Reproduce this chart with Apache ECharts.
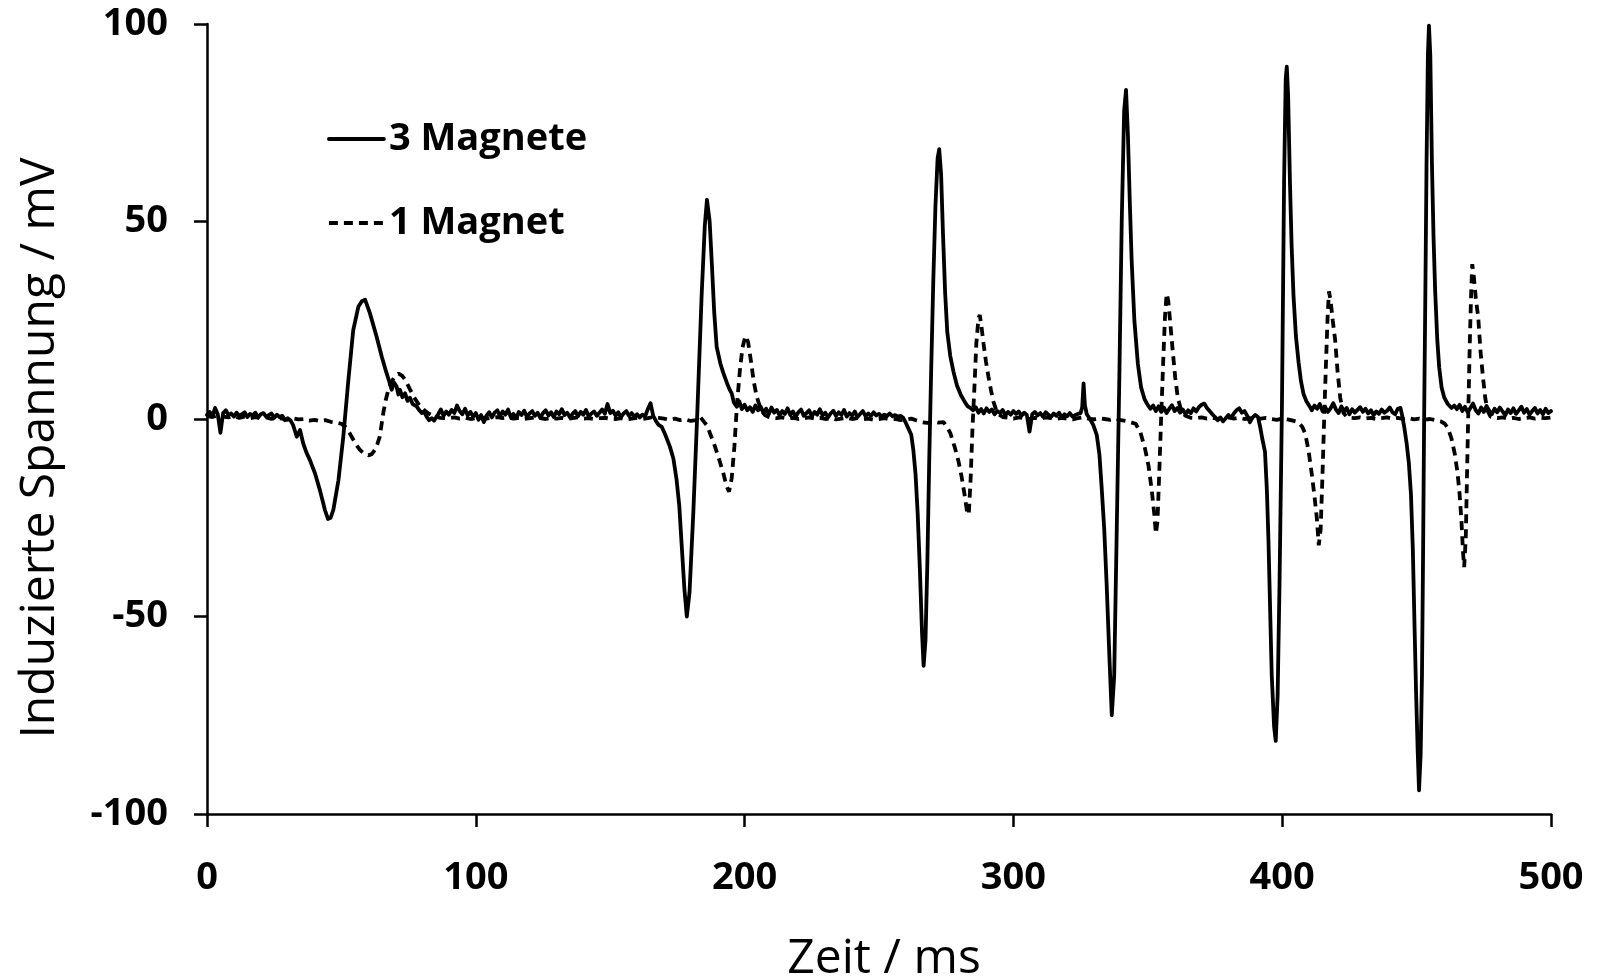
<!DOCTYPE html>
<html><head><meta charset="utf-8">
<script src="https://cdn.jsdelivr.net/npm/echarts/dist/echarts.min.js"></script>
<style>html,body{margin:0;padding:0;background:#fff}#c{width:1604px;height:979px}</style>
</head><body><div id="c"></div>
<script>
// ---------- axis ticks ----------
const xTicks = [0, 100, 200, 300, 400, 500];
const yTicks = [-100, -50, 0, 50, 100];
const seriesNames = ['3 Magnete', '1 Magnet'];

// ---------- 3 Magnete (solid) ----------
// baseline runs sampled every 1 ms: first value at the given start time
const m3Base0Start = 0;
const m3Base0 = [1.0,1.8,0.6,2.8,1.2,-3.5,1.5,2.2,1.0,1.4,0.6,1.6,0.8,1.2,1.7,0.5,1.3,0.9,1.6,0.4,1.2,1.5,0.6,1.0,1.4,0.3,1.1,0.5,0.8,-0.3,0.2];
const m3Pulse1 = [[31,-0.3],[32,-1.5],[33.4,-4.5],[34.6,-2.8],[35.8,-6.2],[37,-8.5],[38.3,-10.4],[40.2,-13.8],[42,-18],[43.9,-23.1],[45,-25.3],[46,-25],[47,-23],[48.9,-15.5],[50.7,-4.5],[52.6,9.9],[54.4,22.5],[56.3,28.4],[57.6,29.8],[58.8,30.2],[60.6,26.8],[63.1,20.8],[65,15.8],[66.8,11.6],[67.8,9.5],[68.7,7.4],[69.6,9.2],[70.5,8.3],[71.2,6.2],[71.8,7.4],[72.7,5.5],[73.7,6.5],[74.6,4.6],[75.5,5.4],[76.5,3.8],[78,3.2],[79,2.2],[79.9,1.5],[80.8,1.8],[81.7,0.6],[82.6,-0.3],[83.6,0.2],[84.5,-0.4],[85.4,0.6]];
const m3Base1Start = 86;
const m3Base1 = [1.2,2.4,0.8,1.9,1.1,2.3,1.5,3.4,2.0,1.2,2.6,0.9,1.8,0.6,1.5,-0.2,1.0,-0.8,0.9,1.7,0.4,1.6,2.2,0.7,1.9,1.1,2.4,0.5,1.3,0.2,1.8,1.0,2.1,0.6,1.4,2.0,0.8,1.6,0.3,1.5,2.2,0.9,1.7,0.5,1.9,1.2,2.5,1.0,1.6,0.4,1.3,2.0,0.7,1.8,1.1,2.3,0.6,1.4,1.9,0.8,1.6,2.4,1.3,3.8,1.5,2.1,0.9,1.7,0.5,1.4,2.0,0.8,1.5,0.6,1.2,0.4,1.1,0.7,2.5,4.0,0.8];
const m3Pulse2 = [[167,-0.5],[168,-1.5],[169.2,-2],[170.5,-4],[172.2,-7],[173.5,-10],[174.7,-15.4],[175.7,-22],[176.6,-32],[177.6,-43],[178.5,-50],[179.5,-44],[180.9,-24],[182.4,1.5],[184,31],[185.2,49],[186,55.5],[187,50],[187.8,39.5],[188.7,27],[189.6,18.3],[191,14],[192.1,11.6],[193.5,9],[194.4,7.5],[195.2,6.5],[196,4.2],[197.1,3.1],[198,4.5],[199,2.5],[200,3.6],[201,2.2]];
const m3Base2Start = 202;
const m3Base2 = [3.0,1.8,3.4,2.2,3.1,1.5,2.6,1.2,2.9,1.6,2.3,0.9,2.0,1.3,2.7,1.0,1.9,0.6,1.7,2.4,0.8,1.5,2.2,0.7,1.8,1.1,2.5,0.9,1.6,0.4,1.4,2.1,0.8,1.7,1.0,2.3,0.6,1.5,0.9,1.9,0.5,1.3,2.0,0.7,1.4,0.8,1.7,0.9,1.3,0.6,1.1,0.8,1.4,0.7,1.0,0.6,0.8];
const m3Pulse3 = [[259,0.3],[260,-1],[261,-2.5],[262,-4],[262.8,-8],[263.6,-14],[264.4,-24],[265.2,-38],[266,-54],[266.6,-62.5],[267.3,-56],[268,-36],[268.7,-10],[269.4,12],[270.2,35],[271,54],[271.8,66],[272.4,68.3],[273.1,62],[273.8,47],[274.6,32],[275.4,22],[276.5,16],[277.7,12],[279,8.5],[280.5,6],[282,4.2],[283,3.2],[284,2.8]];
const m3Base3Start = 285;
const m3Base3 = [2.2,3.0,1.6,2.5,1.4,2.7,1.8,2.4,1.2,2.0,1.5,2.3,0.9,1.8,1.1,2.0,1.3,1.9,0.8,1.6,1.0,-3.2,1.2,1.8,0.9,1.5,0.6,1.7,1.1,0.5,1.4,0.8,1.6,0.4,1.2,0.7,1.5,0.6,1.0,1.3];
const m3Pulse4 = [[325,1.5],[325.6,3],[326.1,9],[326.6,3.5],[327.3,1.2],[328.5,0],[329.7,-1.5],[331,-4],[332,-9],[332.8,-17],[333.8,-28],[334.7,-42],[335.7,-60],[336.6,-75],[337.5,-65],[338.4,-30],[339.4,10],[340.3,50],[341.2,78],[341.9,83.3],[342.6,72],[343.3,55],[344,40],[345,25],[346.3,14],[347.5,8],[348.8,5],[350,3.5]];
const m3Base4Start = 351;
const m3Base4 = [2.6,3.4,2.0,3.2,1.8,2.9,1.5,2.6,3.5,2.0,2.8,1.6,2.4,1.2,2.2,1.5,2.7,1.9,3.0,3.6,3.9,2.8,2.0,1.2,0.5,-0.3,0.4,-0.6,0.2,1.0,0.3,1.4,2.2,2.7,1.6,2.0,0.8,-0.8,0.4,1.0];
const m3Pulse5 = [[391,0.5],[391.8,-2],[392.6,-5],[393.6,-8.3],[394.3,-18],[394.9,-31],[395.5,-48],[396.1,-64.8],[397,-78],[397.6,-81.5],[398.3,-70],[399,-42],[399.9,3],[400.7,60],[401.3,86],[401.7,89.2],[402.2,82],[402.9,59.5],[403.5,44],[404.2,31.3],[405.1,21],[406.1,14.3],[407,9.5],[407.9,6.4],[409,4.5],[410.4,3]];
const m3Base5Start = 411;
const m3Base5 = [2.2,3.4,2.6,3.8,2.0,3.0,1.8,2.7,4.0,2.4,1.5,3.2,1.9,2.8,1.2,2.5,1.6,2.3,3.0,1.8,2.6,1.4,2.2,1.0,1.9,1.3,2.4,1.6,2.1,2.9,1.7,1.2,2.6];
const m3Pulse6 = [[444,2.8],[444.6,1],[445.4,-2],[446.3,-6.2],[447.1,-11],[447.9,-19],[448.6,-33],[449.2,-51.5],[449.8,-69],[450.4,-84],[450.9,-94],[451.5,-85],[452,-64.8],[452.4,-35],[452.8,0],[453.3,35],[453.7,64.8],[454.2,92],[454.6,99.6],[455.1,92],[455.7,64.8],[456.3,46],[456.9,32.5],[457.7,20],[458.4,13.1],[459.3,8],[460.3,5.4],[461.6,3.8],[463,2.8],[464,3.4]];
const m3Base6Start = 465;
const m3Base6 = [2.5,3.6,2.0,3.1,1.7,2.8,3.9,2.2,1.4,2.9,1.8,3.3,2.1,1.2,2.6,1.7,2.9,1.9,1.0,2.4,1.5,2.7,1.3,2.2,3.1,1.6,2.5,1.1,2.0,2.8,1.4,2.3,1.2,2.6,1.5,2.0];

// ---------- 1 Magnet (dashed) ----------
// baseline runs sampled every 2 ms
const m1Base0Start = 0;
const m1Base0 = [0.8,0.5,0.9,0.6,0.4,0.7,0.3,0.6,0.2,0.5,0.1,0.4,0.0,0.3,0.1,-0.2,0.2,-0.1,0.0,-0.4,-0.2,-0.5,-0.3,-0.7,-0.9];
const m1Pulse1 = [[50,-1.2],[51.8,-2.2],[53,-3.5],[54.4,-5.2],[55.7,-6.7],[56.9,-7.8],[58.5,-8.8],[60,-9.2],[61.3,-8.9],[62.5,-7.8],[63.4,-6.3],[64.3,-4.4],[65.6,1.6],[66.5,4.8],[67.5,7.5],[68.8,9.6],[70,10.9],[71.3,11.5],[72.5,11],[73.7,10],[75.5,7.5],[77,5.5],[78,4.5],[79.3,3.2],[80.5,2.4],[82.4,1.4],[84.3,0.8],[86.8,0.3],[88,0.2]];
const m1Base1Start = 90;
const m1Base1 = [0.2,0.4,0.1,0.3,0.0,0.2,0.4,0.1,0.3,0.5,0.2,0.4,0.1,0.3,0.0,0.2,0.4,0.2,0.0,0.3,0.1,0.3,0.0,0.2,0.4,0.1,0.2,0.0,0.2,0.3,0.1,0.0,0.2,-0.1,0.1,0.3,0.0,0.2,0.5,0.3,0.1,-0.2,0.1,-0.3,-0.1,-0.5];
const m1Pulse2 = [[182,-0.3],[183.5,0.5],[185,-0.8],[186.2,-1.8],[187.1,-3.6],[188.5,-6],[190.2,-9.5],[192,-13.5],[193.3,-17],[194.2,-18.4],[195.2,-15],[196.2,-7],[197.2,4],[198.2,12],[199.2,18],[200.3,21],[201.3,19.5],[202.4,14.5],[203.4,9.5],[204.5,5.7],[206,2.5],[207.5,1],[209,0.5],[210,0.3]];
const m1Base2Start = 212;
const m1Base2 = [0.2,0.4,0.1,0.3,0.0,0.2,0.4,0.1,0.3,0.0,0.2,-0.1,0.1,0.3,0.0,0.2,-0.1,0.1,-0.2,0.0,0.2,-0.1,0.0,-0.3,-0.1,0.1,-0.4,-0.8,-1.0,-0.6,-0.9];
const m1Pulse3 = [[274,-0.8],[275.1,-1.8],[276.5,-3.5],[278.2,-7.2],[279.5,-10.5],[280.7,-14.5],[281.8,-19],[282.7,-23.2],[283.4,-24.2],[284.1,-15],[284.8,-2],[285.5,8],[286.2,19],[287,25.5],[287.5,26.3],[288.2,23],[288.9,19],[289.8,14.5],[290.7,10.8],[291.6,7.5],[292.5,4.5],[293.5,2.5],[294.5,1.2],[296,0.5]];
const m1Base3Start = 298;
const m1Base3 = [0.3,0.1,0.4,0.2,0.0,0.3,0.1,0.4,0.2,0.0,0.3,0.1,-0.1,0.2,0.4,0.1,-0.1,0.2,0.0,-0.2,0.1,-0.3,-0.5,-0.9];
const m1Pulse4 = [[345.5,-1.2],[347.3,-3.5],[349,-7.6],[350.3,-12],[351.5,-18.2],[352.4,-24],[353,-29],[353.6,-26],[354.3,-12.9],[355,1],[355.7,14],[356.4,26],[357,31.7],[357.6,30],[358.4,24],[359.3,17],[360.2,10.5],[361.2,5.2],[362.5,2],[364,0.8],[366,0.3]];
const m1Base4Start = 368;
const m1Base4 = [0.2,0.4,0.1,0.3,0.0,0.2,0.4,0.1,0.3,0.0,0.2,-0.1,0.1,0.3,0.0,-0.2,0.1,-0.1,-0.4,-0.8];
const m1Pulse5 = [[407.5,-2],[408.6,-3.8],[409.8,-8],[411,-13.9],[412,-19.5],[412.9,-25.2],[413.6,-32],[414.3,-28],[415,-13.9],[415.7,2],[416.3,14.3],[416.9,26],[417.4,32.3],[418,30],[418.8,25],[419.7,20],[420.6,12],[421.6,5.3],[422.8,1.5],[424,0.6],[425,0.3]];
const m1Base5Start = 427;
const m1Base5 = [0.2,0.4,0.1,0.3,0.0,0.2,0.4,0.1,0.3,0.0,0.2,-0.1,0.1,-0.2,0.0,-0.3,-0.6];
const m1Pulse6 = [[460.5,-1.2],[461.7,-2.4],[463,-5],[464.2,-8.8],[465.2,-13.5],[466,-19],[466.7,-26],[467.3,-34],[467.7,-37.5],[468.3,-30],[468.8,-12.7],[469.3,4],[469.8,19.6],[470.3,32],[470.7,39.2],[471.3,36],[472.1,30],[472.9,26],[473.8,17],[474.7,10.5],[475.6,5],[476.5,2],[477.5,0.6],[478,0.3]];
const m1Base6Start = 480;
const m1Base6 = [0.2,0.4,0.1,0.3,0.0,0.2,0.4,0.1,0.3,0.2,0.4];

// ---------- build series data ----------
function run(start, step, vals) { return vals.map((v, i) => [start + i * step, v]); }
const m3Data = [].concat(
  run(m3Base0Start, 1, m3Base0), m3Pulse1,
  run(m3Base1Start, 1, m3Base1), m3Pulse2,
  run(m3Base2Start, 1, m3Base2), m3Pulse3,
  run(m3Base3Start, 1, m3Base3), m3Pulse4,
  run(m3Base4Start, 1, m3Base4), m3Pulse5,
  run(m3Base5Start, 1, m3Base5), m3Pulse6,
  run(m3Base6Start, 1, m3Base6)
);
const m1Data = [].concat(
  run(m1Base0Start, 2, m1Base0), m1Pulse1,
  run(m1Base1Start, 2, m1Base1), m1Pulse2,
  run(m1Base2Start, 2, m1Base2), m1Pulse3,
  run(m1Base3Start, 2, m1Base3), m1Pulse4,
  run(m1Base4Start, 2, m1Base4), m1Pulse5,
  run(m1Base5Start, 2, m1Base5), m1Pulse6,
  run(m1Base6Start, 2, m1Base6)
);

const FONT = "'Open Sans', 'Noto Sans', sans-serif";
const chart = echarts.init(document.getElementById('c'), null, { renderer: 'canvas' });
chart.setOption({
  animation: false,
  backgroundColor: '#fff',
  grid: { left: 207, right: 53, top: 24, bottom: 165, containLabel: false, outerBoundsMode: 'none' },
  legend: {
    orient: 'vertical', left: 327, top: 120, padding: 0,
    itemWidth: 55, itemHeight: 14, itemGap: 46,
    selectedMode: false,
    itemStyle: { opacity: 0 },
    lineStyle: { width: 3.8 },
    textStyle: { fontFamily: FONT, fontSize: 38, fontWeight: 'bold', color: '#000' },
    data: seriesNames
  },
  xAxis: {
    type: 'value', min: xTicks[0], max: xTicks[xTicks.length - 1], interval: xTicks[1] - xTicks[0],
    axisLine: { show: true, onZero: false, lineStyle: { color: '#000', width: 2.5 } },
    axisTick: { show: true, inside: false, length: 13, lineStyle: { color: '#000', width: 2.5 } },
    splitLine: { show: false },
    axisLabel: { margin: 45, fontFamily: FONT, fontSize: 38, fontWeight: 'bold', color: '#000' },
    name: 'Zeit / ms', nameLocation: 'middle', nameGap: 121,
    nameTextStyle: { fontFamily: FONT, fontSize: 48, color: '#000', padding: [0, 0, 0, 10] }
  },
  yAxis: {
    type: 'value', min: yTicks[0], max: yTicks[yTicks.length - 1], interval: yTicks[1] - yTicks[0],
    axisLine: { show: true, onZero: false, lineStyle: { color: '#000', width: 2.5 } },
    axisTick: { show: true, inside: false, length: 13, lineStyle: { color: '#000', width: 2.5 } },
    splitLine: { show: false },
    axisLabel: { margin: 39, fontFamily: FONT, fontSize: 38, fontWeight: 'bold', color: '#000' },
    name: 'Induzierte Spannung / mV', nameLocation: 'middle', nameGap: 143,
    nameTextStyle: { fontFamily: FONT, fontSize: 48, color: '#000', padding: [0, 58, 0, 0] }
  },
  series: [
    {
      name: seriesNames[0], type: 'line', data: m3Data,
      symbol: 'none', showSymbol: false, sampling: null,
      lineStyle: { color: '#000', width: 3.8, join: 'round', cap: 'round' },
      itemStyle: { color: '#000' }, z: 2
    },
    {
      name: seriesNames[1], type: 'line', data: m1Data,
      symbol: 'none', showSymbol: false,
      lineStyle: { color: '#000', width: 3.8, type: [9, 6] },
      itemStyle: { color: '#000' }, z: 3
    }
  ]
});
</script>
</body></html>
